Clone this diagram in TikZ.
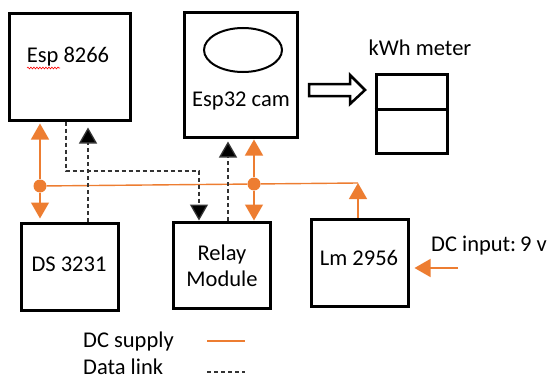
\documentclass[tikz,border=0pt]{standalone}
\usepackage{fontspec}
\setmainfont{Carlito}
\usetikzlibrary{arrows.meta,decorations.pathmorphing,shapes.geometric}
\definecolor{dcorange}{HTML}{ED7D31}
\begin{document}
\begin{tikzpicture}[x=1pt,y=-1pt,
  box/.style={draw=black,line width=3pt,inner sep=0pt,minimum width=#1},
  lbl/.style={font=\fontsize{22.5}{27}\selectfont,inner sep=0pt,align=center},
  supply/.style={draw=dcorange,line width=1.4pt},
  otip/.style={-{Triangle[width=18pt,length=16pt,fill=dcorange]}},
  datalink/.style={draw=black!80,line width=1.3pt,dash pattern=on 4pt off 3pt},
  btip/.style={-{Triangle[width=18pt,length=16pt,fill=black]}},
  dot/.style={circle,fill=dcorange,inner sep=0pt,minimum size=13pt}]
\useasboundingbox (0,0) rectangle (552,380);
% boxes
\node[box=121pt,minimum height=107pt] (esp8266) at (69.5,66.5) {};
\node[box=113pt,minimum height=125pt] (esp32) at (240.5,74.5) {};
\node[box=71pt,minimum height=79pt] (kwh) at (411.5,113.5) {};
\node[box=97pt,minimum height=87pt] (ds) at (69.5,266.5) {};
\node[box=97pt,minimum height=86pt] (relay) at (221.5,265) {};
\node[box=97pt,minimum height=87pt] (lm) at (359.5,262.5) {};
\draw[line width=3pt] (kwh.west |- 0,109) coordinate (kwhL) -- (kwh.east |- 0,109) coordinate (kwhR);
\node[draw,line width=2pt,ellipse,minimum width=78pt,minimum height=44pt,inner sep=0pt] (lens) at (243,50) {};
% texts
\node[lbl] (t8266) at (68,57) {Esp 8266};
\draw[red,line width=0.6pt,decorate,decoration={snake,amplitude=0.9pt,segment length=3pt}] (27,68) coordinate (sqa) -- (60,68) coordinate (sqb);
\node[lbl] (t32) at (241,101) {Esp32 cam};
\node[lbl] (tkwh) at (420,48) {kWh meter};
\node[lbl] (tds) at (69,264) {DS 3231};
\node[lbl] (trelay) at (222,265.5) {Relay\\[-1pt]Module};
\node[lbl] (tlm) at (359,258) {Lm 2956};
\node[lbl,anchor=west] (tdc) at (431,246) {DC input:\,9 v};
% hollow arrow
\draw[line width=2.5pt,line join=miter] (309,84) coordinate (ha) -- (350,84) -- (350,75) -- (365,90) -- (350,104) -- (350,96) -- (309,96) -- cycle;
% supply bus
\node[dot] (dotL) at (40,186) {};
\node[dot] (dotR) at (254,184) {};
\coordinate (busE) at (358,183);
\draw[supply] (dotL) -- (dotR) -- (busE);
\draw[supply,otip] (dotL) -- ([yshift=-2pt]dotL |- esp8266.south);
\draw[supply,otip] (dotL) -- ([yshift=3pt]dotL |- ds.north);
\draw[supply,otip] (dotR) -- ([yshift=-1pt]dotR |- esp32.south);
\draw[supply,otip] (dotR) -- (dotR |- relay.north);
\draw[supply,otip] (busE |- lm.north) -- (busE);
\coordinate (dcin) at (458,268);
\draw[supply,otip] (dcin) -- ([xshift=5pt]lm.east |- dcin);
% data links
\draw[datalink,btip] (66,0 |- esp8266.south) -- (66,171) -- (199,171) -- (199,0 |- relay.north);
\draw[datalink,btip] (88,0 |- ds.north) -- ([yshift=-6pt]88,0 |- esp8266.south);
\draw[datalink,btip] (228,0 |- relay.north) -- ([yshift=-3pt]228,0 |- esp32.south);
% legend
\node[lbl,anchor=west] (lsup) at (83,341) {DC supply};
\node[lbl,anchor=west] (ldat) at (83,367) {Data link};
\coordinate (ls1) at (207,341);
\coordinate (ls2) at (245,341);
\draw[supply] (ls1) -- (ls2);
\coordinate (ld1) at (207,372);
\coordinate (ld2) at (245,372);
\draw[datalink] (ld1) -- (ld2);
\end{tikzpicture}
\end{document}
